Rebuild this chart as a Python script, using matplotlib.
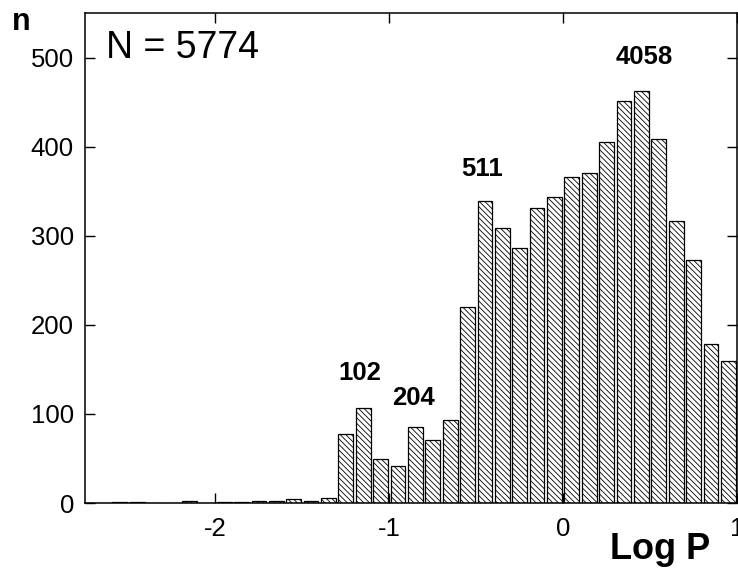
import numpy as np
import matplotlib
matplotlib.use("Agg")
import matplotlib.pyplot as plt

plt.rcParams['font.family'] = ['Liberation Sans', 'DejaVu Sans']
plt.rcParams['hatch.linewidth'] = 0.6

# Histogram of log period, bins of 0.1 dex (bin centres)
bin_centers = [-2.65, -2.55, -2.45, -2.35, -2.25, -2.15, -2.05, -1.95, -1.85,
               -1.75, -1.65, -1.55, -1.45, -1.35, -1.25, -1.15, -1.05, -0.95,
               -0.85, -0.75, -0.65, -0.55, -0.45, -0.35, -0.25, -0.15, -0.05,
               0.05, 0.15, 0.25, 0.35, 0.45, 0.55, 0.65, 0.75, 0.85, 0.95]
counts = [0, 1, 1, 0, 0, 2, 0, 1, 1,
          2, 2, 5, 2, 6, 78, 107, 50, 42,
          85, 71, 93, 220, 339, 309, 286, 331, 344,
          366, 370, 405, 451, 463, 409, 317, 273, 178, 160]

group_labels = ["102", "204", "511", "4058"]
group_x = [-1.167, -0.862, -0.466, 0.466]
group_y = [146, 118, 375, 501]

total_label = "N = 5774"
xticks = [-2, -1, 0, 1]
yticks = [0, 100, 200, 300, 400, 500]

fig = plt.figure(figsize=(7.38, 5.71), dpi=100)
ax = fig.add_axes([0.1152, 0.119, 0.8835, 0.858])

ax.bar(bin_centers, counts, width=0.085, color='white', edgecolor='black',
       linewidth=0.9, hatch='\\' * 6, zorder=2)

ax.set_xlim(-2.75, 1.0)
ax.set_ylim(0, 550)
ax.set_xticks(xticks)
ax.set_xticklabels([str(t) for t in xticks])
ax.set_yticks(yticks)
ax.tick_params(direction='in', length=7, width=1.0, labelsize=18.5,
               top=True, right=True)
ax.tick_params(axis='x', pad=10)
ax.tick_params(axis='y', pad=8)
for s in ax.spines.values():
    s.set_linewidth(1.1)

for lab, x, y in zip(group_labels, group_x, group_y):
    ax.text(x, y, lab, ha='center', va='center', fontsize=18.5, fontweight='bold')

ax.text(0.032, 0.929, total_label, transform=ax.transAxes, ha='left',
        va='center', fontsize=27)

fig.text(0.029, 0.962, "n", ha='center', va='center', fontsize=22,
         fontweight='bold')
fig.text(0.894, 0.0385, "Log P", ha='center', va='center', fontsize=26,
         fontweight='bold')

fig.savefig("out.png", dpi=100)
